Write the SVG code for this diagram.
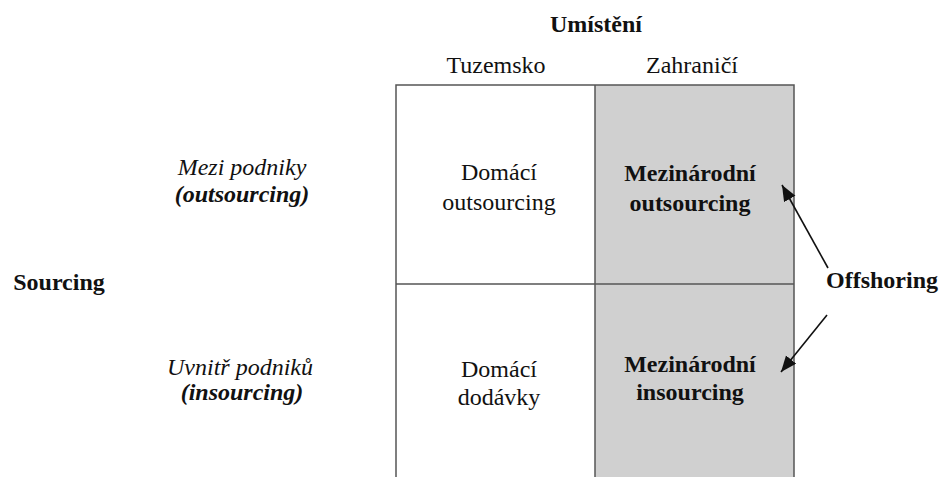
<svg xmlns="http://www.w3.org/2000/svg" width="941" height="477" viewBox="0 0 941 477">
<defs>
<style>
text{font-family:'Liberation Serif','Times New Roman',serif;font-size:24px;fill:#111;text-anchor:middle}
.b{font-weight:bold}
.i{font-style:italic}
.grid{stroke:#555;stroke-width:1.5;fill:none}
.arrow{stroke:#111;stroke-width:1.6;fill:none}
</style>
<marker id="ah" markerUnits="userSpaceOnUse" markerWidth="17" markerHeight="14" refX="16" refY="6.5" orient="auto">
<path d="M0,0 L16,6.5 L0,13 z" fill="#111"/>
</marker>
</defs>
<rect width="941" height="477" fill="#fff"/>
<g id="headers">
<text class="b" x="596" y="32">Umístění</text>
<text x="496" y="73">Tuzemsko</text>
<text x="692" y="73">Zahraničí</text>
<text class="b" x="59" y="290">Sourcing</text>
<text class="i" x="242" y="175">Mezi podniky</text>
<text class="i b" x="242" y="202">(outsourcing)</text>
<text class="i" x="240" y="375">Uvnitř podniků</text>
<text class="i b" x="242" y="400">(insourcing)</text>
</g>
<g id="grid">
<rect x="595" y="85" width="199" height="400" fill="#d0d0d0"/>
<path class="grid" d="M396,477 V85 H794 V477 M595,85 V477 M396,284 H794"/>
</g>
<g id="cell-domaci-outsourcing">
<text x="499" y="180">Domácí</text>
<text x="499" y="210">outsourcing</text>
</g>
<g id="cell-mezinarodni-outsourcing">
<text class="b" x="690" y="181">Mezinárodní</text>
<text class="b" x="690" y="211">outsourcing</text>
</g>
<g id="cell-domaci-dodavky">
<text x="499" y="377">Domácí</text>
<text x="499" y="405">dodávky</text>
</g>
<g id="cell-mezinarodni-insourcing">
<text class="b" x="690" y="372">Mezinárodní</text>
<text class="b" x="690" y="400">insourcing</text>
</g>
<g id="offshoring">
<text class="b" x="882" y="288">Offshoring</text>
</g>
<g id="connectors">
<line class="arrow" x1="828" y1="268" x2="782" y2="185" marker-end="url(#ah)"/>
<line class="arrow" x1="827" y1="315" x2="781" y2="372" marker-end="url(#ah)"/>
</g>
</svg>
